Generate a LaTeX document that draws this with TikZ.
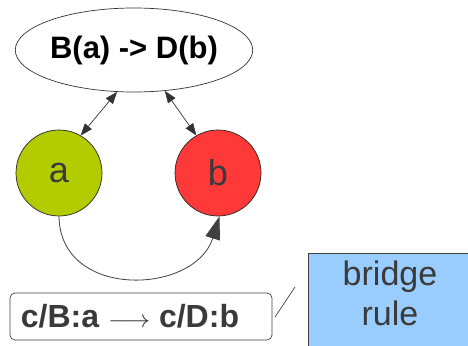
\documentclass[tikz,border=0pt]{standalone}
\usepackage{fontspec}
\usepackage{graphicx}
\setmainfont{Liberation Sans}
\usetikzlibrary{shapes.geometric,arrows.meta}
\definecolor{agreen}{HTML}{B3CC00}
\definecolor{bred}{HTML}{FF3838}
\definecolor{lblue}{HTML}{99CCFF}
\definecolor{txt}{HTML}{3A3A3A}
\tikzset{
  circnode/.style={circle,draw=black!85,line width=0.7pt,minimum size=86pt,inner sep=0pt,text=txt,font=\fontsize{36}{40}\selectfont},
  dbl/.style={{Triangle[length=12pt,width=9pt]}-{Triangle[length=12pt,width=9pt]},line width=0.7pt,draw=black!80},
  bigarrow/.style={-{Triangle[length=23pt,width=15pt]},line width=0.8pt,draw=black!75},
}
\begin{document}
\begin{tikzpicture}[x=1pt,y=-1pt]
\useasboundingbox (0,0) rectangle (468,345);
\clip (0,0) rectangle (468,345);
\node[ellipse,draw=black!80,line width=0.7pt,minimum width=224pt,minimum height=84pt,inner sep=0pt,font=\bfseries\fontsize{31}{34}\selectfont] (e) at (134,50) {B(a) -> D(b)};
\node[circnode,fill=agreen] (a) at (59,173) {a};
\node[circnode,fill=bred] (b) at (218,173) {b};
\draw[dbl] (e.248) -- (a.60);
\draw[dbl] (e.307) -- (b.120);
\draw[bigarrow] (a.270) .. controls (60,300) and (195,295) .. (b.272);
\node[draw=black!75,line width=0.7pt,rounded corners=5pt,minimum width=262pt,minimum height=47pt,inner sep=0pt,text=txt,font=\bfseries\fontsize{32}{34}\selectfont] (rule) at (141,316.5) {c/B:a \scalebox{1.05}[1]{$\longrightarrow$} c/D:b\hspace*{22pt}};
\node[draw=black!75,line width=0.7pt,fill=lblue,anchor=north west,minimum width=200pt,minimum height=120pt,inner sep=0pt] (br) at (308,253) {};
\node[text=txt,align=center,font=\fontsize{34}{40}\selectfont] (brt) at (390,293) {bridge\\rule};
\coordinate (s1) at (275,317);
\coordinate (s2) at (295,287);
\draw[line width=0.7pt,draw=black!75] (s1) -- (s2);
\end{tikzpicture}
\end{document}
